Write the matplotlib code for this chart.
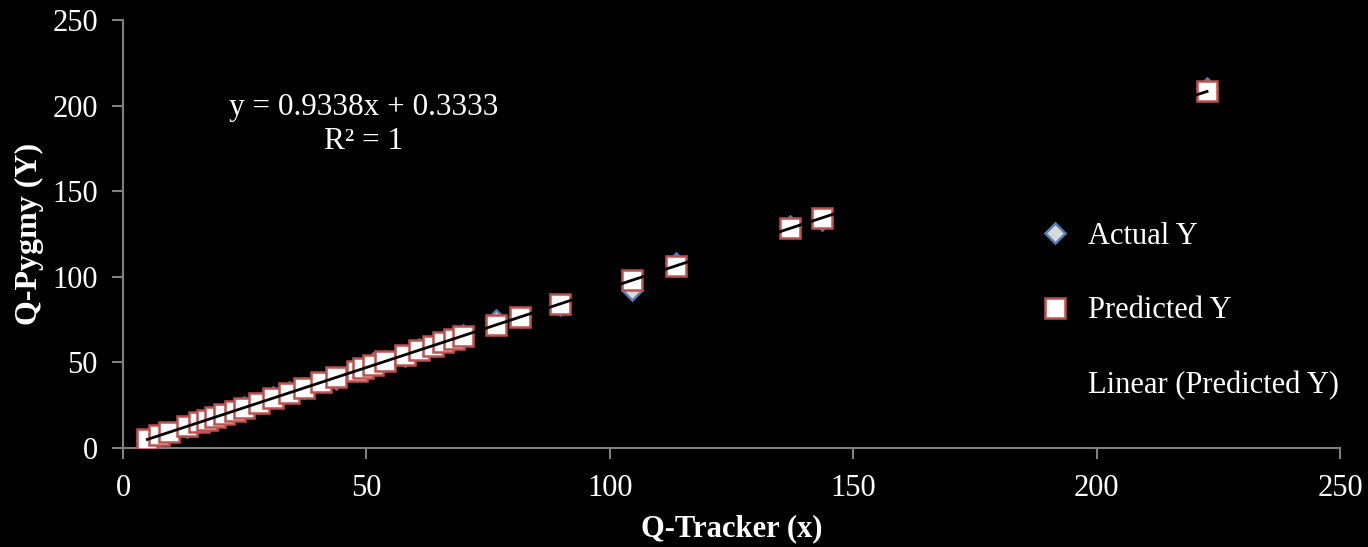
import numpy as np
import matplotlib
matplotlib.use('Agg')
import matplotlib.pyplot as plt
from matplotlib.lines import Line2D

plt.rcParams['font.family'] = ['Liberation Serif', 'DejaVu Serif']

# Q-Tracker readings (x)
tracker_x = [5.0, 7.5, 9.5, 13.2, 15.6, 17.3, 18.9, 20.8, 23.0, 24.9, 27.9, 30.9,
             34.2, 37.2, 40.7, 43.8, 48.1, 49.4, 51.3, 53.8, 57.9, 60.9, 63.6,
             65.8, 67.9, 69.9, 76.6, 81.6, 89.8, 104.6, 113.6, 137.0, 143.6, 222.7]
# Q-Pygmy measured values (Actual Y)
actual_y = [4.5, 6.8, 9.6, 12.2, 15.0, 16.8, 17.5, 19.9, 22.0, 23.8, 26.5, 29.5,
            33.0, 35.0, 38.5, 40.5, 45.3, 46.5, 49.5, 50.8, 53.8, 57.8, 59.4,
            61.8, 63.3, 66.0, 74.8, 76.5, 83.5, 92.3, 108.0, 129.5, 133.0, 210.0]

slope = 0.9338
intercept = 0.3333
pred_y = [slope * x + intercept for x in tracker_x]

fig = plt.figure(figsize=(13.68, 5.47), dpi=100, facecolor='black')
ax = fig.add_axes([0.0899, 0.181, 0.8896, 0.7824])
ax.set_facecolor('black')

ax.plot(tracker_x, actual_y, linestyle='none', marker='D', markersize=10,
        markerfacecolor='#D9D9D9', markeredgecolor='#4F81BD', markeredgewidth=1.8,
        label='Actual Y', zorder=3)
ax.plot(tracker_x, pred_y, linestyle='none', marker='s', markersize=14,
        markerfacecolor='white', markeredgecolor='#C0504D', markeredgewidth=1.8,
        label='Predicted Y', zorder=4)

fit = np.polyfit(tracker_x, pred_y, 1)
xs = np.array([min(tracker_x), max(tracker_x)])
ax.plot(xs, np.polyval(fit, xs), color='black', linewidth=2,
        label='Linear (Predicted Y)', zorder=5)

ax.set_xlim(0, 250)
ax.set_ylim(0, 250)
ax.set_xticks(range(0, 251, 50))
ax.set_yticks(range(0, 251, 50))

for side in ['top', 'right']:
    ax.spines[side].set_visible(False)
for side in ['left', 'bottom']:
    ax.spines[side].set_color('#808080')
    ax.spines[side].set_linewidth(1.5)
ax.tick_params(colors='#808080', labelcolor='white', labelsize=22,
               length=8, width=1.5, direction='out')
ax.tick_params(axis='x', pad=11)
ax.tick_params(axis='y', pad=10)

ax.set_xlabel('Q-Tracker (x)', color='white', fontsize=22, fontweight='bold', labelpad=8)
ax.set_ylabel('Q-Pygmy (Y)', color='white', fontsize=23, fontweight='bold', labelpad=6)

ax.text(49.5, 199, 'y = 0.9338x + 0.3333', color='white', fontsize=22.5,
        ha='center', va='center')
ax.text(49.5, 179, 'R² = 1', color='white', fontsize=22.5, ha='center', va='center')

handles = [
    Line2D([], [], linestyle='none', marker='D', markersize=10,
           markerfacecolor='#D9D9D9', markeredgecolor='#4F81BD', markeredgewidth=1.8),
    Line2D([], [], linestyle='none', marker='s', markersize=14,
           markerfacecolor='white', markeredgecolor='#C0504D', markeredgewidth=1.8),
    Line2D([], [], color='black', linewidth=2),
]
leg = fig.legend(handles, ['Actual Y', 'Predicted Y', 'Linear (Predicted Y)'],
                 loc='upper left', bbox_to_anchor=(1012 / 1368, 1 - 194 / 547),
                 frameon=False, fontsize=22, labelcolor='white',
                 labelspacing=1.5, handlelength=1.0, handletextpad=0.6)

fig.savefig('out.png', dpi=100, facecolor='black')
